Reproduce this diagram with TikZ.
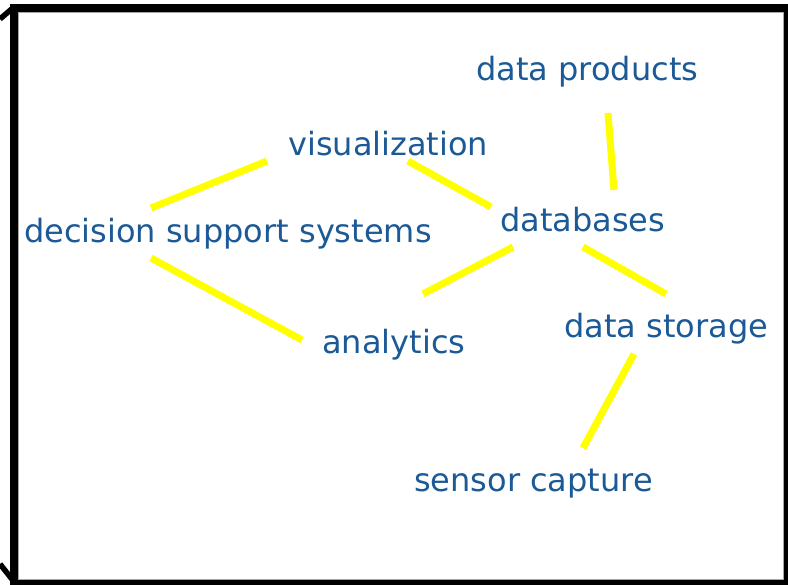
\documentclass[tikz,border=0pt]{standalone}
\usepackage{fontspec}
\setmainfont{DejaVu Sans}
\usetikzlibrary{calc}
\definecolor{txtblue}{HTML}{1B5A96}
\definecolor{lineyel}{HTML}{FFFF00}
\begin{document}
\begin{tikzpicture}[x=1pt,y=-1pt,
  lbl/.style={anchor=base west,inner sep=0pt,text=txtblue,font=\fontsize{32}{38}\selectfont},
  link/.style={draw=lineyel,line width=7pt}]
\useasboundingbox (0,0) rectangle (788,585);
% frame
\fill[black] (10,4) rectangle (788,585);
\fill[white,draw=gray!70,line width=1pt] (18,13) rectangle (783,579);
\draw[black,line width=5.5pt] (0,19) -- (14,7);
\draw[black,line width=5.5pt] (0,564) -- (15,583);
% nodes
\node[lbl] (prod) at (476,81) {data products};
\node[lbl] (vis) at (288,156) {visualization};
\node[lbl] (dec) at (24,243) {decision support systems};
\node[lbl] (db) at (500,232) {databases};
\node[lbl] (ana) at (322,354) {analytics};
\node[lbl] (stor) at (564,338) {data storage};
\node[lbl] (sens) at (414,492) {sensor capture};
% connectors
\draw[link] ($(vis.base west)+(-21,5)$) -- ($(dec.base west)+(127,-35)$);
\draw[link] ($(vis.base west)+(120,5)$) -- ($(db.base west)+(-9,-25)$);
\draw[link] ($(prod.base west)+(132,32)$) -- ($(db.base west)+(114,-42)$);
\draw[link] ($(db.base west)+(13,15)$) -- ($(ana.base west)+(101,-60)$);
\draw[link] ($(dec.base west)+(127,15)$) -- ($(ana.base west)+(-20,-14)$);
\draw[link] ($(db.base west)+(83,15)$) -- ($(stor.base west)+(102,-44)$);
\draw[link] ($(stor.base west)+(70,16)$) -- ($(sens.base west)+(169,-44)$);
\end{tikzpicture}
\end{document}
